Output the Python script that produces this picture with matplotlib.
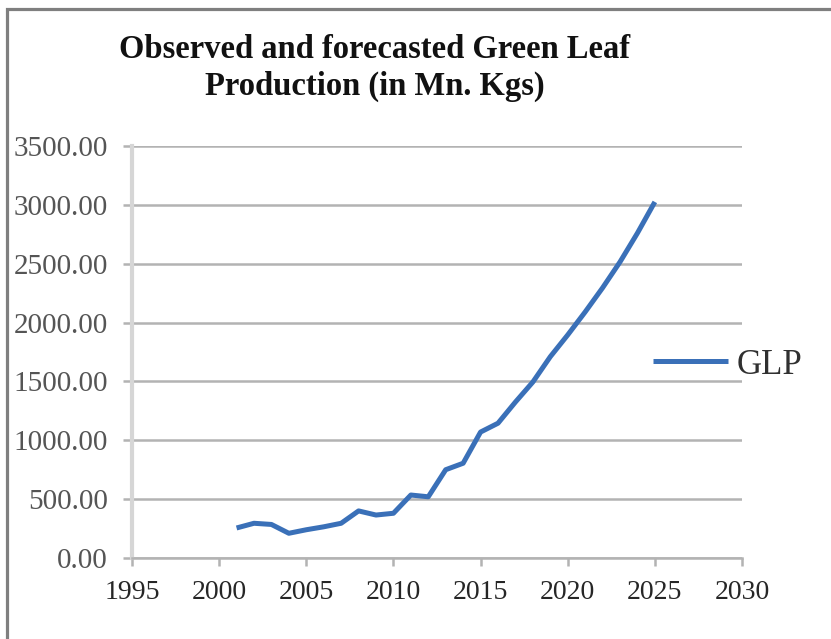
import matplotlib
matplotlib.use("Agg")
import matplotlib.pyplot as plt
from matplotlib.patches import Rectangle

# Observed (2001-2013ish) and forecasted green leaf production, Mn. Kgs
years = [2001, 2002, 2003, 2004, 2005, 2006, 2007, 2008, 2009, 2010, 2011, 2012, 2013,
         2014, 2015, 2016, 2017, 2018, 2019, 2020, 2021, 2022, 2023, 2024, 2025]
glp = [255, 295, 285, 210, 240, 265, 295, 400, 365, 380, 535, 520, 750,
       805, 1070, 1145, 1325, 1495, 1710, 1895, 2090, 2295, 2515, 2760, 3025]

x_ticks = [1995, 2000, 2005, 2010, 2015, 2020, 2025, 2030]
y_ticks = [0, 500, 1000, 1500, 2000, 2500, 3000, 3500]

title = "Observed and forecasted Green Leaf\nProduction (in Mn. Kgs)"
series_name = "GLP"

W, H = 831, 639
dpi = 100
fig = plt.figure(figsize=(W / dpi, H / dpi), dpi=dpi)
plt.rcParams['font.family'] = ['Liberation Serif', 'DejaVu Serif']

# plot area in pixels: x 132..742, y 146..558
ax = fig.add_axes([132 / W, 1 - 558 / H, (742 - 132) / W, (558 - 146) / H])

grid_col = '#b3b3b3'
ax.plot(years, glp, color='#3a70b8', lw=3.6, solid_joinstyle='round',
        solid_capstyle='butt', label=series_name, zorder=3)

ax.set_xlim(1995, 2030)
ax.set_ylim(0, 3500)
ax.set_xticks(x_ticks)
ax.set_yticks(y_ticks)
ax.set_yticklabels([f"{v:.2f}" for v in y_ticks])

ax.yaxis.grid(True, color=grid_col, lw=1.8)
ax.set_axisbelow(True)
for s in ['top', 'right']:
    ax.spines[s].set_visible(False)
ax.spines['bottom'].set_color(grid_col)
ax.spines['bottom'].set_linewidth(1.8)
ax.spines['left'].set_color('#d6d6d6')
ax.spines['left'].set_linewidth(3)

ax.tick_params(axis='y', length=6.5, width=1.8, color=grid_col, pad=11,
               labelsize=21, labelcolor='#555555')
ax.tick_params(axis='x', length=6, width=1.8, color=grid_col, pad=10,
               labelsize=20, labelcolor='#262626')

fig.text(375 / W, 1 - 68 / H, title, ha='center', va='center', fontsize=23.5,
         fontweight='bold', linespacing=1.2, color='#111111')

fig.legend(loc='center left', bbox_to_anchor=(653 / W, 1 - 365 / H),
           frameon=False, fontsize=25, handlelength=2.15, handletextpad=0.25,
           borderpad=0, borderaxespad=0, labelcolor='#303030')

# outer chart frame (runs off the right and bottom edges)
fig.patches.append(Rectangle((7 / W, -0.1), 1.2, 1.1 - 9 / H, transform=fig.transFigure,
                             fill=False, edgecolor='#7f7f7f', lw=2.3))

fig.savefig("out.png", dpi=dpi)
